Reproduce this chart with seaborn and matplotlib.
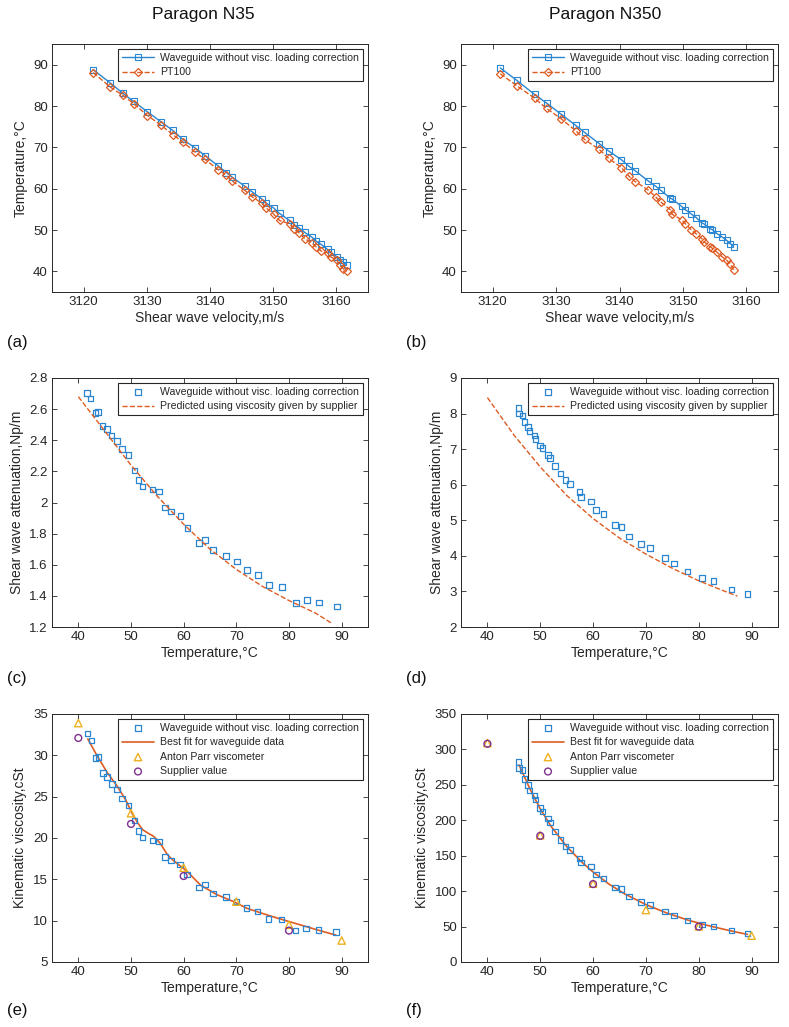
import matplotlib
matplotlib.use("Agg")
import matplotlib.pyplot as plt
from matplotlib.ticker import FormatStrFormatter
import seaborn as sns

##########################################
# Data
##########################################

# (a) Paragon N35 : temperature vs shear wave velocity
vel_a = [3121.5, 3124.2, 3126.2, 3127.9, 3130.1, 3132.3, 3134.1, 3135.7, 3137.6, 3139.2,
         3141.3, 3142.6, 3143.5, 3145.5, 3146.7, 3148.2, 3148.9, 3150.1, 3151.0, 3152.6,
         3153.3, 3154.1, 3155.0, 3156.1, 3156.8, 3157.6, 3158.6, 3159.1, 3160.1, 3160.5,
         3161.1, 3161.6]
temp_wg_a = [88.8, 85.6, 83.1, 81.1, 78.6, 76.1, 74.1, 71.9, 69.9, 68.0,
             65.5, 63.9, 62.8, 60.6, 59.2, 57.5, 56.5, 55.3, 54.0, 52.3,
             51.3, 50.5, 49.4, 48.3, 47.3, 46.5, 45.3, 44.6, 43.5, 42.7,
             42.3, 41.6]
temp_pt_a = [88.1, 84.6, 82.6, 80.6, 77.7, 75.3, 73.1, 71.3, 68.9, 67.1,
             64.6, 63.2, 61.9, 59.6, 58.0, 56.5, 55.3, 53.8, 52.3, 51.5,
             50.3, 49.3, 47.9, 46.9, 45.9, 44.9, 44.5, 43.5, 42.7, 41.5,
             40.6, 40.0]

# (b) Paragon N350 : temperature vs shear wave velocity
vel_b = [3121.2, 3123.8, 3126.6, 3128.5, 3130.8, 3133.1, 3134.5, 3136.8, 3138.3, 3140.3,
         3141.5, 3142.5, 3144.5, 3145.7, 3146.5, 3148.0, 3148.3, 3149.8, 3150.4, 3151.3,
         3152.1, 3153.0, 3153.3, 3154.3, 3154.6, 3155.4, 3156.2, 3156.9, 3157.5, 3158.0]
temp_wg_b = [89.2, 86.2, 82.8, 80.7, 78.0, 75.3, 73.6, 70.9, 69.1, 67.0,
             65.4, 64.3, 61.9, 60.6, 59.6, 57.7, 57.5, 55.7, 54.9, 53.9,
             53.0, 51.7, 51.5, 50.3, 50.1, 49.1, 48.3, 47.5, 46.7, 46.0]
temp_pt_b = [87.8, 84.9, 81.9, 79.4, 76.9, 74.0, 71.9, 69.5, 67.3, 65.1,
             63.0, 61.7, 59.7, 58.0, 56.8, 54.9, 53.8, 52.5, 51.5, 50.1,
             49.1, 47.9, 47.2, 46.0, 45.6, 44.6, 43.5, 42.7, 41.7, 40.3]

# (c) Paragon N35 : attenuation vs temperature
temp_c = [41.6, 42.3, 43.3, 43.7, 44.6, 45.4, 46.3, 47.3, 48.3, 49.5,
          50.7, 51.4, 52.2, 54.1, 55.3, 56.5, 57.6, 59.4, 60.7, 62.9,
          64.1, 65.6, 68.0, 70.1, 72.0, 74.1, 76.2, 78.7, 81.3, 83.4,
          85.7, 89.1]
att_c = [2.703, 2.667, 2.574, 2.581, 2.493, 2.471, 2.431, 2.396, 2.343, 2.304,
         2.207, 2.145, 2.102, 2.083, 2.072, 1.969, 1.943, 1.913, 1.836, 1.741,
         1.758, 1.694, 1.657, 1.621, 1.565, 1.533, 1.471, 1.456, 1.355, 1.374,
         1.357, 1.333]
temp_pred_c = [40, 45, 50, 55, 60, 65, 70, 75, 80, 85, 88.3]
att_pred_c = [2.68, 2.46, 2.24, 2.04, 1.86, 1.70, 1.57, 1.46, 1.37, 1.29, 1.22]

# (d) Paragon N350 : attenuation vs temperature
temp_d = [45.9, 46.0, 46.6, 47.0, 47.7, 48.0, 48.9, 49.1, 50.0, 50.4,
          51.5, 51.8, 52.8, 53.8, 54.8, 55.6, 57.4, 57.7, 59.6, 60.5,
          62.0, 64.2, 65.4, 66.8, 69.1, 70.8, 73.6, 75.3, 77.9, 80.6,
          82.8, 86.2, 89.2]
att_d = [8.15, 8.00, 7.95, 7.77, 7.63, 7.51, 7.38, 7.29, 7.10, 7.03,
         6.84, 6.75, 6.52, 6.31, 6.14, 6.02, 5.80, 5.66, 5.53, 5.29,
         5.17, 4.87, 4.81, 4.55, 4.34, 4.22, 3.94, 3.79, 3.56, 3.38,
         3.30, 3.06, 2.93]
temp_pred_d = [40, 45, 50, 55, 60, 65, 70, 75, 80, 85, 87.3]
att_pred_d = [8.45, 7.40, 6.50, 5.70, 5.05, 4.50, 4.05, 3.65, 3.30, 3.00, 2.87]

# (e) Paragon N35 : kinematic viscosity
temp_e = [41.7, 42.5, 43.3, 43.8, 44.7, 45.4, 46.4, 47.3, 48.3, 49.5,
          50.7, 51.4, 52.2, 54.1, 55.3, 56.5, 57.6, 59.3, 60.6, 62.9,
          64.1, 65.6, 68.0, 70.0, 71.9, 74.0, 76.1, 78.6, 81.2, 83.2,
          85.6, 88.9]
visc_e = [32.66, 31.77, 29.68, 29.80, 27.86, 27.38, 26.53, 25.85, 24.76, 23.95,
          22.14, 20.85, 20.04, 19.72, 19.60, 17.70, 17.30, 16.77, 15.56, 14.03,
          14.35, 13.31, 12.86, 12.30, 11.53, 11.13, 10.20, 10.12, 8.79, 9.03,
          8.87, 8.63]
temp_fit_e = [41.8, 43.6, 45.5, 47.4, 49.0, 50.2, 51.2, 52.2, 53.2, 54.3,
              55.5, 56.9, 58.0, 59.4, 60.6, 63.2, 66.3, 69.5, 72.0, 75.8,
              78.9, 82.1, 85.3, 88.9]
visc_fit_e = [31.98, 29.9, 27.9, 26.25, 24.6, 23.0, 21.9, 21.0, 20.6, 20.2,
              19.4, 18.0, 17.3, 16.6, 16.0, 14.3, 13.15, 12.3, 11.5, 10.7,
              10.1, 9.5, 8.9, 8.25]
temp_ap_e = [40, 50, 60, 70, 80, 90]
visc_ap_e = [33.9, 23.0, 16.4, 12.3, 9.5, 7.6]
temp_sup_e = [40, 50, 60, 80]
visc_sup_e = [32.1, 21.7, 15.4, 8.8]

# (f) Paragon N350 : kinematic viscosity
temp_f = temp_d
visc_f = [282.0, 273.8, 271.0, 258.3, 249.8, 241.8, 234.8, 229.1, 217.4, 212.7,
          202.8, 197.1, 184.4, 172.2, 163.3, 158.1, 146.3, 140.7, 134.6, 123.3,
          118.1, 105.4, 103.1, 92.7, 84.7, 80.5, 71.1, 65.4, 58.4, 52.7,
          50.4, 44.3, 40.1]
temp_fit_f = [46, 48, 50, 52, 55, 58, 60, 63, 66, 70, 74, 78, 82, 86, 89.2]
visc_fit_f = [278, 245, 216, 192, 163, 140, 127, 110, 96, 81, 69, 59, 51, 44, 39]
temp_ap_f = [40, 50, 60, 70, 80, 90]
visc_ap_f = [309, 178.8, 110.6, 73.4, 50.4, 37.2]
temp_sup_f = [40, 50, 60, 80]
visc_sup_f = [308, 178, 110, 49.9]

##########################################
# Styling
##########################################
BLUE = '#2A86D0'
ORANGE = '#DE5B22'
YELLOW = '#EDB120'
PURPLE = '#7E2F8E'
DARK = '#262626'

sns.set_theme(style="ticks")
plt.rcParams['font.family'] = ['Liberation Sans', 'DejaVu Sans']

W, H = 789, 1027
fig = plt.figure(figsize=(W / 100, H / 100), dpi=100)


def add_axes(left, top, right, bottom):
    return fig.add_axes([left / W, 1 - bottom / H, (right - left) / W, (bottom - top) / H])


def style_axes(ax, xlim, ylim, xticks, yticks, xlabel, ylabel):
    ax.set_xlim(xlim)
    ax.set_ylim(ylim)
    ax.set_xticks(xticks)
    ax.set_yticks(yticks)
    ax.yaxis.set_major_formatter(FormatStrFormatter('%g'))
    ax.tick_params(direction='in', top=True, right=True, length=3.5, width=0.6,
                   labelsize=9.5, colors=DARK, pad=3)
    for sp in ax.spines.values():
        sp.set_linewidth(0.7)
        sp.set_color(DARK)
    ax.set_xlabel(xlabel, fontsize=10, color=DARK, labelpad=2)
    ax.set_ylabel(ylabel, fontsize=10, color=DARK, labelpad=4)


def add_legend(ax):
    leg = ax.legend(loc='upper right', fontsize=7.6, frameon=True, fancybox=False,
                    edgecolor=DARK, framealpha=1, borderaxespad=0.5, handlelength=3.0,
                    borderpad=0.35, labelspacing=0.42, handletextpad=0.6, scatterpoints=1)
    leg.get_frame().set_linewidth(0.8)
    for t in leg.get_texts():
        t.set_color(DARK)


WG = 'Waveguide without visc. loading correction'

##########
# (a), (b)
##########
for left, right, vel, twg, tpt in [(52, 368, vel_a, temp_wg_a, temp_pt_a),
                                   (461, 778, vel_b, temp_wg_b, temp_pt_b)]:
    ax = add_axes(left, 44, right, 292)
    sns.lineplot(x=vel, y=twg, ax=ax, color=BLUE, marker='s', markersize=3.8,
                 markerfacecolor='none', markeredgecolor=BLUE, markeredgewidth=0.8,
                 linewidth=1.0, sort=False, estimator=None, label=WG)
    sns.lineplot(x=vel, y=tpt, ax=ax, color=ORANGE, marker='D', markersize=4.2,
                 markerfacecolor='none', markeredgecolor=ORANGE, markeredgewidth=0.9,
                 linewidth=1.0, linestyle='--', sort=False, estimator=None, label='PT100')
    style_axes(ax, (3115, 3165), (35, 95), range(3120, 3161, 10), range(40, 91, 10),
               'Shear wave velocity,m/s', 'Temperature,°C')
    add_legend(ax)

##########
# (c), (d)
##########
for left, right, t, a, tp, ap, ylim, yt in [
        (52, 368, temp_c, att_c, temp_pred_c, att_pred_c, (1.2, 2.8),
         [1.2, 1.4, 1.6, 1.8, 2.0, 2.2, 2.4, 2.6, 2.8]),
        (461, 778, temp_d, att_d, temp_pred_d, att_pred_d, (2, 9), range(2, 10))]:
    ax = add_axes(left, 378, right, 627)
    sns.scatterplot(x=t, y=a, ax=ax, marker='s', s=16, color=BLUE, facecolor='none',
                    edgecolor=BLUE, linewidth=0.9, label=WG)
    sns.lineplot(x=tp, y=ap, ax=ax, color=ORANGE, linewidth=1.0, linestyle='--',
                 sort=False, estimator=None,
                 label='Predicted using viscosity given by supplier')
    style_axes(ax, (35, 95), ylim, range(40, 91, 10), yt,
               'Temperature,°C', 'Shear wave attenuation,Np/m')
    add_legend(ax)

##########
# (e), (f)
##########
for left, right, t, v, tf, vf, tap, vap, tsu, vsu, ylim, yt in [
        (52, 368, temp_e, visc_e, temp_fit_e, visc_fit_e, temp_ap_e, visc_ap_e,
         temp_sup_e, visc_sup_e, (5, 35), range(5, 36, 5)),
        (461, 778, temp_f, visc_f, temp_fit_f, visc_fit_f, temp_ap_f, visc_ap_f,
         temp_sup_f, visc_sup_f, (0, 350), range(0, 351, 50))]:
    ax = add_axes(left, 714, right, 962)
    sns.scatterplot(x=t, y=v, ax=ax, marker='s', s=16, color=BLUE, facecolor='none',
                    edgecolor=BLUE, linewidth=0.9, label=WG, zorder=3)
    sns.lineplot(x=tf, y=vf, ax=ax, color=ORANGE, linewidth=1.2, sort=False,
                 estimator=None, label='Best fit for waveguide data', zorder=2)
    sns.scatterplot(x=tap, y=vap, ax=ax, marker='^', s=28, color=YELLOW, facecolor='none',
                    edgecolor=YELLOW, linewidth=1.0, label='Anton Parr viscometer', zorder=4)
    sns.scatterplot(x=tsu, y=vsu, ax=ax, marker='o', s=24, color=PURPLE, facecolor='none',
                    edgecolor=PURPLE, linewidth=1.0, label='Supplier value', zorder=5)
    style_axes(ax, (35, 95), ylim, range(40, 91, 10), yt,
               'Temperature,°C', 'Kinematic viscosity,cSt')
    add_legend(ax)

##########
# Titles and panel letters
##########
fig.text(203 / W, 1 - 15 / H, 'Paragon N35', ha='center', va='center', fontsize=12.5, color='#111111')
fig.text(605 / W, 1 - 15 / H, 'Paragon N350', ha='center', va='center', fontsize=12.5, color='#111111')
for lbl, x, y in [('(a)', 7, 343), ('(b)', 406, 343), ('(c)', 7, 679),
                  ('(d)', 406, 679), ('(e)', 7, 1011), ('(f)', 406, 1011)]:
    fig.text(x / W, 1 - y / H, lbl, ha='left', va='center', fontsize=12, color='#111111')

fig.savefig('out.png', dpi=100)
